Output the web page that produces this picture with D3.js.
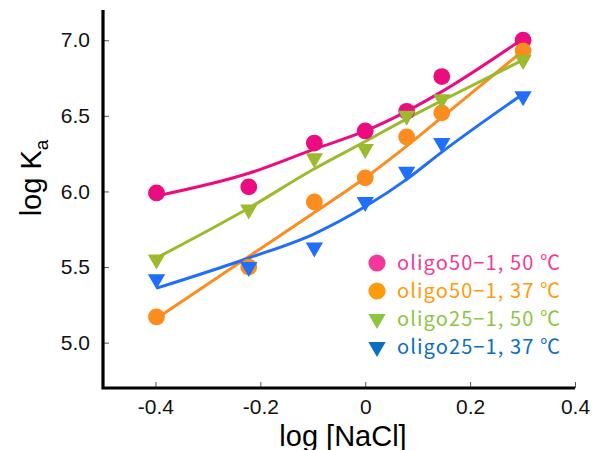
<!doctype html>
<html lang="en">
  <head>
    <meta charset="utf-8">
    <title>log Ka vs log [NaCl]</title>
    <script src="https://d3js.org/d3.v7.min.js"></script>
    <style>
    body { margin: 0; background: #fff; }
    .tick line { stroke: #555; stroke-width: 1; }
    .tick text { font-family: "Liberation Sans", Arial, sans-serif; font-size: 21px; fill: #111; }
    </style>
  </head>

  <body>
    <div id="chart">
      <svg width="592" height="450"></svg>
    </div>

    <script>
      // log [NaCl] for 0.4, 0.6, 0.8, 1.0, 1.2, 1.4, 2.0 M
      var logNaCl = [-0.398, -0.222, -0.097, 0, 0.079, 0.146, 0.301];

      var seriesNames = ['oligo50\u22121, 50 \u2103', 'oligo50\u22121, 37 \u2103', 'oligo25\u22121, 50 \u2103', 'oligo25\u22121, 37 \u2103'];
      var seriesShapes = ['circle', 'circle', 'triangle', 'triangle'];

      // measured log Ka
      var o50_50 = [5.99, 6.03, 6.32, 6.40, 6.53, 6.76, 7.00];
      var o50_37 = [5.17, 5.50, 5.93, 6.09, 6.36, 6.52, 6.93];
      var o25_50 = [5.55, 5.88, 6.22, 6.28, 6.50, 6.61, 6.87];
      var o25_37 = [5.42, 5.50, 5.63, 5.93, 6.13, 6.32, 6.63];

      // fitted curves, read at the same x values
      var fit50_50 = [5.97, 6.12, 6.28, 6.40, 6.53, 6.66, 7.01];
      var fit50_37 = [5.16, 5.57, 5.86, 6.09, 6.30, 6.49, 6.93];
      var fit25_50 = [5.56, 5.89, 6.15, 6.33, 6.48, 6.60, 6.87];
      var fit25_37 = [5.36, 5.56, 5.72, 5.90, 6.08, 6.26, 6.645];

      var xTicks = [-0.4, -0.2, 0, 0.2, 0.4];
      var xTickLabels = ['-0.4', '-0.2', '0', '0.2', '0.4'];
      var yTicks = [5.0, 5.5, 6.0, 6.5, 7.0];
      var yTickLabels = ['5.0', '5.5', '6.0', '6.5', '7.0'];

      var pointColors = ['#eb0c80', '#fc8c1e', '#9bba2e', '#1f6ffc'];
      var legendColors = ['#f2399a', '#ff9a0a', '#8cc63f', '#0a6fc4'];

      var points = [o50_50, o50_37, o25_50, o25_37];
      var fits = [fit50_50, fit50_37, fit25_50, fit25_37];

      var svg = d3.select('svg');

      var x = d3.scaleLinear().domain([-0.5, 0.4]).range([103, 575]);
      var y = d3.scaleLinear().domain([4.7, 7.2]).range([388, 10]);

      // axes
      var xAxis = d3.axisBottom(x)
        .tickValues(xTicks)
        .tickFormat(function(d, i){ return xTickLabels[i]; })
        .tickSize(-6).tickSizeOuter(0).tickPadding(10);

      var gx = svg.append('g')
        .attr('transform', 'translate(0, 388)')
        .call(xAxis);
      gx.select('.domain').remove();
      gx.selectAll('.tick text').attr('dy', '0.75em');

      var yAxis = d3.axisLeft(y)
        .tickValues(yTicks)
        .tickFormat(function(d, i){ return yTickLabels[i]; })
        .tickSize(-6).tickSizeOuter(0).tickPadding(13);

      var gy = svg.append('g')
        .attr('transform', 'translate(103, 0)')
        .call(yAxis);
      gy.select('.domain').remove();

      svg.append('path')
        .attr('d', 'M103,10V388H575')
        .attr('fill', 'none')
        .attr('stroke', '#000')
        .attr('stroke-width', 3.2);

      // fit lines
      var line = d3.line()
        .x(function(d, i){ return x(logNaCl[i]); })
        .y(function(d){ return y(d); })
        .curve(d3.curveMonotoneX);

      fits.forEach(function(f, k){
        svg.append('path')
          .attr('d', line(f))
          .attr('fill', 'none')
          .attr('stroke', pointColors[k])
          .attr('stroke-width', 3);
      });

      // markers
      var tri = d3.symbol().type(d3.symbolTriangle).size(130);

      points.forEach(function(s, k){
        var g = svg.append('g').attr('fill', pointColors[k]);
        if (seriesShapes[k] === 'circle') {
          g.selectAll('circle').data(s).enter()
            .append('circle')
            .attr('cx', function(d, i){ return x(logNaCl[i]); })
            .attr('cy', function(d){ return y(d); })
            .attr('r', 8.4);
        } else {
          g.selectAll('path').data(s).enter()
            .append('path')
            .attr('d', tri)
            .attr('transform', function(d, i){
              return 'translate(' + x(logNaCl[i]) + ',' + y(d) + ') rotate(180)';
            });
        }
      });

      // legend
      var legend = svg.append('g').attr('transform', 'translate(377, 263)');
      seriesNames.forEach(function(name, k){
        var row = legend.append('g').attr('transform', 'translate(0,' + (k * 28) + ')');
        if (seriesShapes[k] === 'circle') {
          row.append('circle').attr('r', 8.6).attr('fill', legendColors[k]);
        } else {
          row.append('path').attr('d', tri).attr('fill', legendColors[k])
            .attr('transform', 'rotate(180)');
        }
        row.append('text')
          .attr('x', 20)
          .attr('y', 7)
          .attr('textLength', 163)
          .attr('lengthAdjust', 'spacing')
          .style('font-family', '"Noto Sans CJK JP", sans-serif')
          .style('font-size', '20px')
          .attr('fill', legendColors[k])
          .text(name);
      });

      // axis titles
      svg.append('text')
        .attr('x', 343)
        .attr('y', 446)
        .attr('text-anchor', 'middle')
        .style('font-family', '"Liberation Sans", Arial, sans-serif')
        .style('font-size', '29px')
        .text('log [NaCl]');

      var yl = svg.append('text')
        .attr('transform', 'translate(41, 178) rotate(-90)')
        .attr('text-anchor', 'middle')
        .style('font-family', '"Liberation Sans", Arial, sans-serif')
        .style('font-size', '29px');
      yl.append('tspan').text('log K');
      yl.append('tspan').attr('dy', 7).style('font-size', '19px').text('a');
    </script>
  </body>
</html>
